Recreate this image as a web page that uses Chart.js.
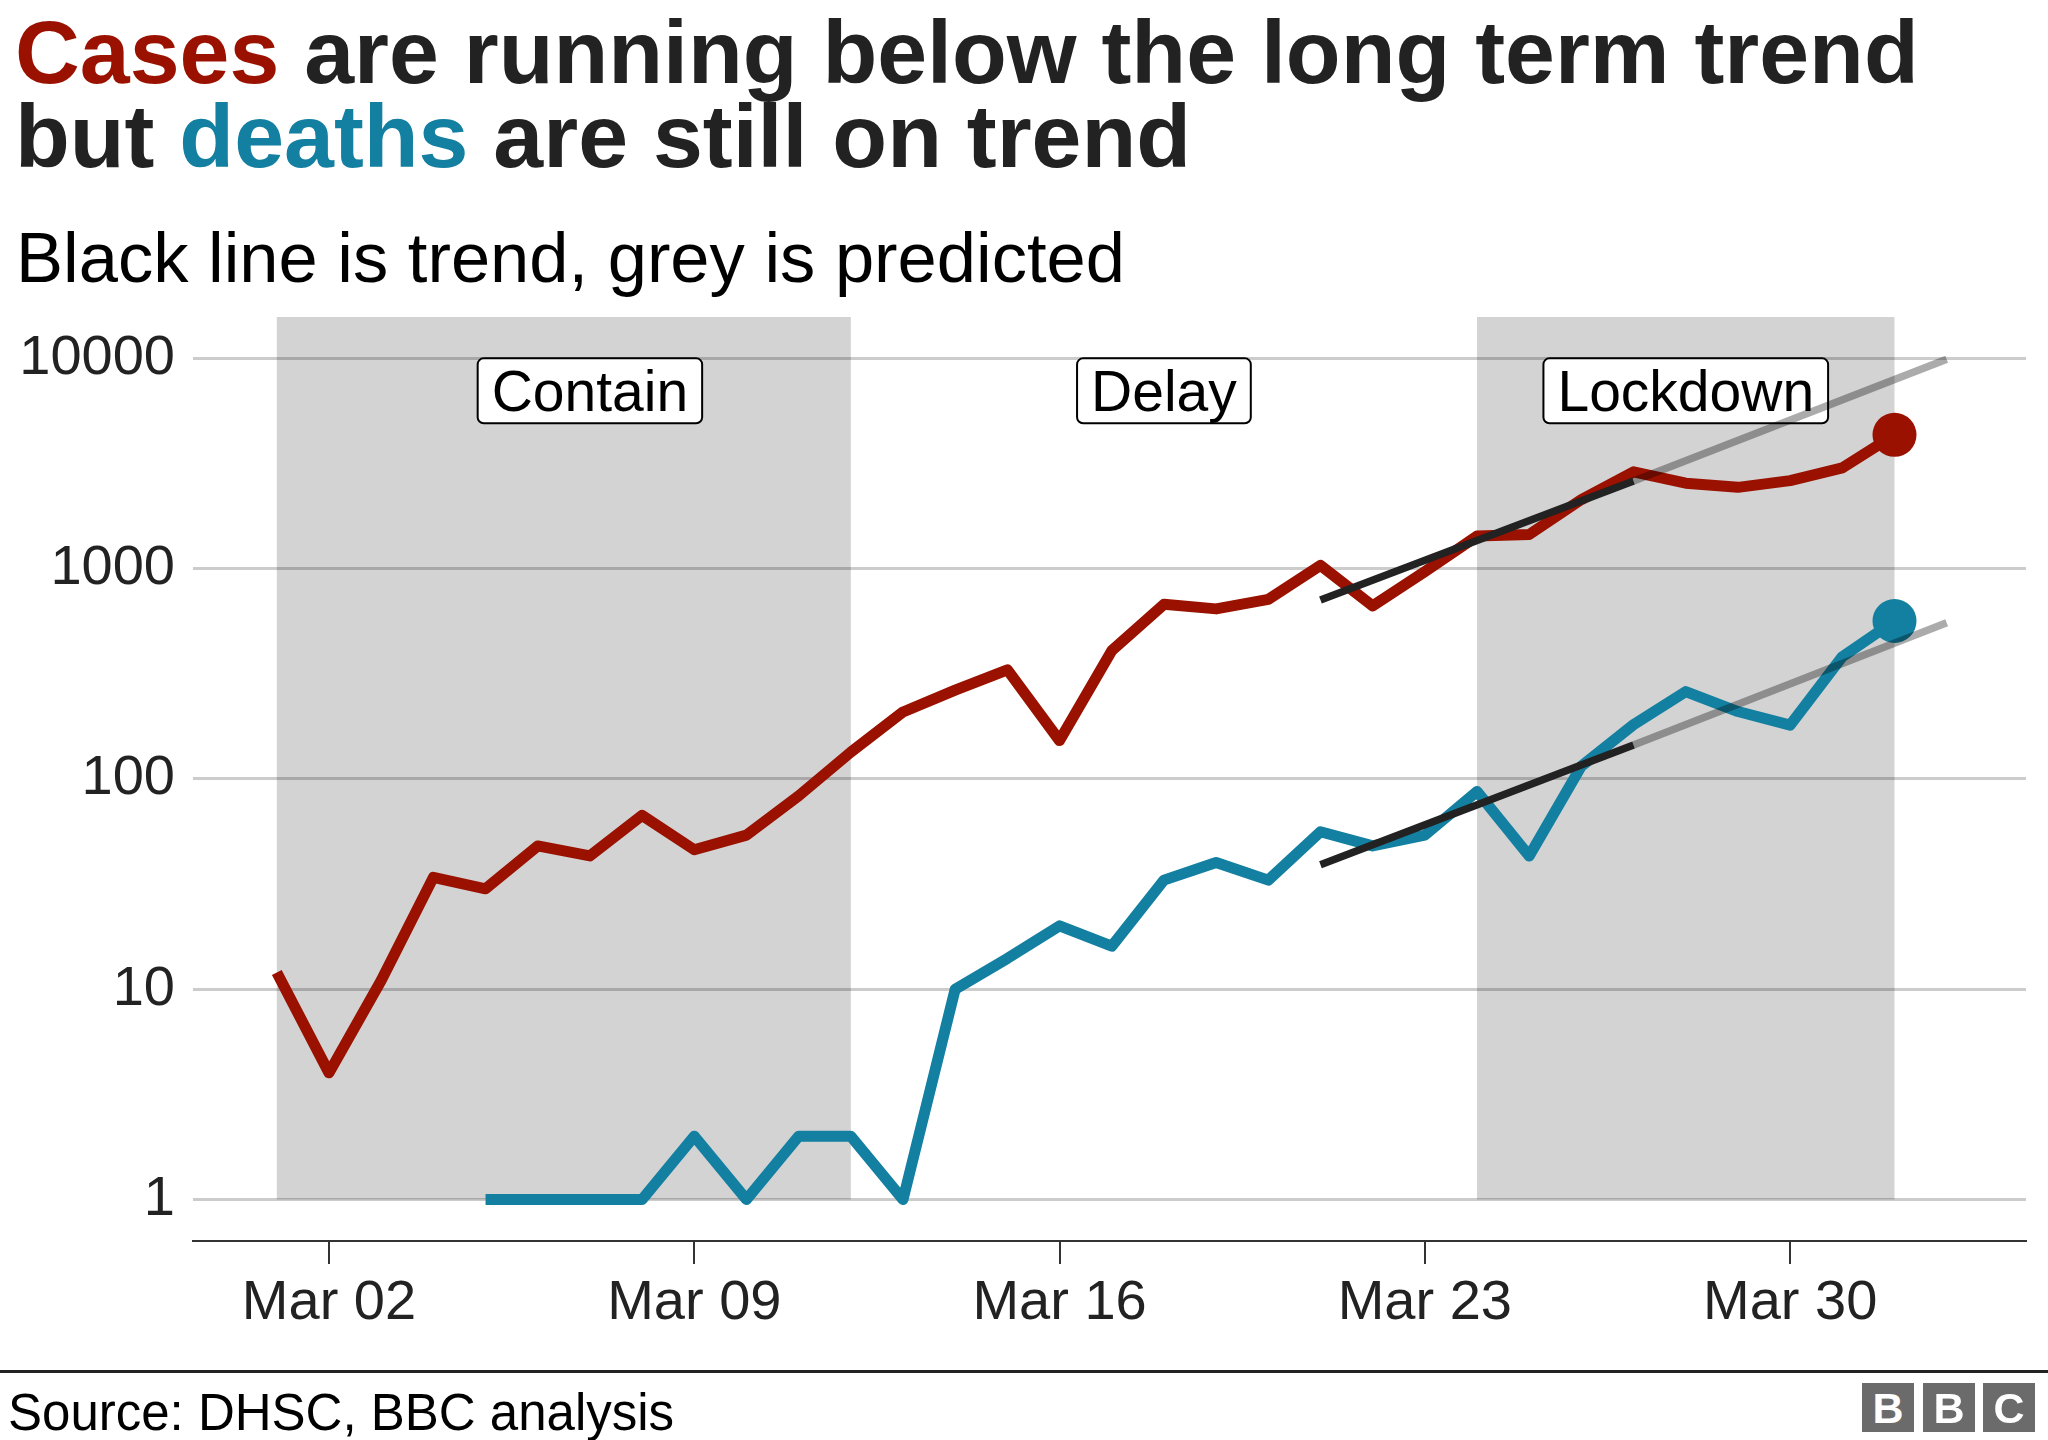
<!DOCTYPE html>
<html>
<head>
<meta charset="utf-8">
<script src="https://cdn.jsdelivr.net/npm/chart.js@4.4.1/dist/chart.umd.min.js"></script>
<style>
  body { margin: 0; background: #fff; }
  #pagina { position: relative; width: 2048px; height: 1440px; overflow: hidden;
            font-family: "Liberation Sans", Arial, sans-serif; color: #222; }
  canvas { position: absolute; left: 0; top: 0; }
  .titulo { position: absolute; left: 15px; top: 10px; font-size: 89.7px; font-weight: bold;
            line-height: 84px; white-space: nowrap; color: #222; }
  .subtitulo { position: absolute; left: 16px; top: 223px; font-size: 70.5px; line-height: 70.5px;
               white-space: nowrap; color: #000; }
  .rodape { position: absolute; left: 0; top: 1370px; width: 2048px; height: 3px; background: #222; }
  .fonte { position: absolute; left: 8px; top: 1387px; font-size: 51px; line-height: 51px;
           white-space: nowrap; color: #000; }
  .bbc { position: absolute; top: 1383px; width: 52px; height: 49px; background: #6b6b6b;
         color: #fff; font-weight: bold; font-size: 43px; line-height: 50px; text-align: center; }
</style>
</head>
<body>
<div id="pagina">
  <canvas id="grafico" width="2048" height="1440"></canvas>
  <div class="titulo"><span style="color:#9a1100">Cases</span> are running below the long term trend<br>but <span style="color:#1380a1">deaths</span> are still on trend</div>
  <div class="subtitulo">Black line is trend, grey is predicted</div>
  <div class="rodape"></div>
  <div class="fonte">Source: DHSC, BBC analysis</div>
  <div class="bbc" style="left:1862px">B</div>
  <div class="bbc" style="left:1923px">B</div>
  <div class="bbc" style="left:1983px">C</div>
</div>
<script>
// dia de março (32 = 1 abr, 33 = 2 abr)
const dias = [1, 2, 3, 4, 5, 6, 7, 8, 9, 10, 11, 12, 13, 14, 15, 16,
              17, 18, 19, 20, 21, 22, 23, 24, 25, 26, 27, 28, 29, 30, 31, 32];
const casos = [12, 4, 11, 34, 30, 48, 43, 67, 46, 54, 83, 134, 208, 264, 330, 152,
               407, 676, 643, 714, 1035, 665, 967, 1427, 1452, 2129, 2885, 2546, 2433, 2619, 3009, 4324];
const mortes = [null, null, null, null, 1, 1, 1, 1, 2, 1, 2, 2, 1, 10, 14, 20,
                16, 33, 40, 33, 56, 48, 54, 87, 43, 115, 181, 260, 209, 180, 381, 563];

const diasTendencia = [21, 27];
const casosTendencia = [709, 2610];
const mortesTendencia = [39, 145];
const diasPrevisao = [27, 33];
const casosPrevisao = [2610, 9890];
const mortesPrevisao = [145, 553];

const sombraInicio = [1, 24];
const sombraFim = [12, 32];
const faseNomes = ["Contain", "Delay", "Lockdown"];
const faseDias = [7, 18, 28];

const diasTicks = [2, 9, 16, 23, 30];
const rotulosTicks = ["Mar 02", "Mar 09", "Mar 16", "Mar 23", "Mar 30"];
const valoresY = [1, 10, 100, 1000, 10000];

const VERMELHO = "#9a1100";
const AZUL = "#1380a1";

function pontos(xs, ys) {
    return xs.map((d, i) => ({ x: d, y: ys[i] }));
}

function raioFinal(ctx) {
    return ctx.dataIndex === ctx.dataset.data.length - 1 ? 22 : 0;
}

const fundoFases = {
    id: "fundoFases",
    beforeDraw(chart) {
        const { ctx, chartArea, scales: { x, y } } = chart;
        const base = y.getPixelForValue(1);
        ctx.save();
        ctx.fillStyle = "#d3d3d3";
        sombraInicio.forEach((ini, i) => {
            const x1 = x.getPixelForValue(ini);
            const x2 = x.getPixelForValue(sombraFim[i]);
            ctx.fillRect(x1, chartArea.top, x2 - x1, base - chartArea.top);
        });
        ctx.restore();
    }
};

const rotulosFases = {
    id: "rotulosFases",
    beforeDatasetsDraw(chart) {
        const { ctx, scales: { x, y } } = chart;
        ctx.save();
        ctx.font = '57px "Liberation Sans", Arial, sans-serif';
        ctx.textAlign = "center";
        ctx.textBaseline = "alphabetic";
        faseNomes.forEach((nome, i) => {
            const cx = x.getPixelForValue(faseDias[i]);
            const cy = y.getPixelForValue(7000);
            const w = ctx.measureText(nome).width + 28;
            const h = 65;
            ctx.beginPath();
            ctx.roundRect(cx - w / 2, cy - h / 2, w, h, 6);
            ctx.fillStyle = "#fff";
            ctx.fill();
            ctx.lineWidth = 2;
            ctx.strokeStyle = "#000";
            ctx.stroke();
            ctx.fillStyle = "#000";
            ctx.fillText(nome, cx, cy + 20.5);
        });
        ctx.restore();
    }
};

Chart.defaults.font.family = '"Liberation Sans", Arial, sans-serif';
Chart.defaults.color = "#222";

const ctx = document.getElementById("grafico").getContext("2d");
new Chart(ctx, {
    type: "line",
    data: {
        datasets: [
            { data: pontos(diasTendencia, casosTendencia), borderColor: "#222", borderWidth: 7.5, order: 0 },
            { data: pontos(diasTendencia, mortesTendencia), borderColor: "#222", borderWidth: 7.5, order: 0 },
            { data: pontos(diasPrevisao, casosPrevisao), borderColor: "rgba(0,0,0,0.33)", borderWidth: 7.5, order: 0 },
            { data: pontos(diasPrevisao, mortesPrevisao), borderColor: "rgba(0,0,0,0.33)", borderWidth: 7.5, order: 0 },
            {
                label: "Cases",
                data: pontos(dias, casos),
                borderColor: VERMELHO,
                backgroundColor: VERMELHO,
                borderWidth: 11,
                pointRadius: raioFinal,
                pointBorderWidth: 0,
                order: 1
            },
            {
                label: "Deaths",
                data: pontos(dias, mortes),
                borderColor: AZUL,
                backgroundColor: AZUL,
                borderWidth: 11,
                pointRadius: raioFinal,
                pointBorderWidth: 0,
                order: 1
            }
        ]
    },
    options: {
        responsive: false,
        animation: false,
        devicePixelRatio: 1,
        parsing: false,
        elements: {
            line: { tension: 0, borderJoinStyle: "round", borderCapStyle: "butt", fill: false },
            point: { radius: 0, hoverRadius: 0 }
        },
        layout: { padding: { left: 0, right: 12, top: 317, bottom: 79.5 } },
        plugins: {
            legend: { display: false },
            tooltip: { enabled: false }
        },
        scales: {
            x: {
                type: "linear",
                bounds: "data",
                min: -0.606,
                max: 34.52,
                afterBuildTicks: s => { s.ticks = diasTicks.map(v => ({ value: v })); },
                afterFit: s => { s.height = 120; },
                grid: { drawOnChartArea: false, drawTicks: true, tickLength: 23.5, color: "#333", lineWidth: 2 },
                border: { display: true, color: "#333", width: 2 },
                ticks: {
                    padding: 6,
                    maxRotation: 0,
                    autoSkip: false,
                    font: { size: 56 },
                    color: "#222",
                    callback: v => rotulosTicks[diasTicks.indexOf(v)]
                }
            },
            y: {
                type: "logarithmic",
                bounds: "data",
                min: 0.638,
                max: 15710,
                afterBuildTicks: s => { s.ticks = valoresY.map(v => ({ value: v })); },
                afterFit: s => { s.width = 193; },
                grid: { drawTicks: false, color: "rgba(0,0,0,0.2)", lineWidth: 3 },
                border: { display: false },
                ticks: {
                    padding: 18,
                    autoSkip: false,
                    font: { size: 56 },
                    color: "#222",
                    callback: v => String(v)
                }
            }
        }
    },
    plugins: [fundoFases, rotulosFases]
});
</script>
</body>
</html>
